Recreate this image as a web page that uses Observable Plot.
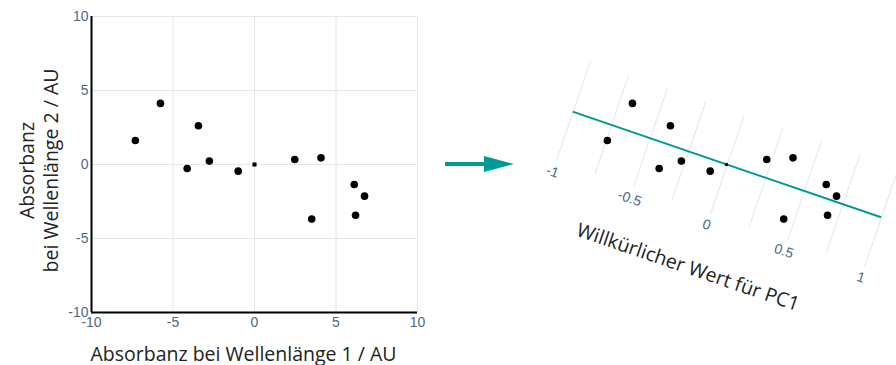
<!DOCTYPE html>
<html><head><meta charset="utf-8">
<script src="https://cdn.jsdelivr.net/npm/d3@7"></script>
<script src="https://cdn.jsdelivr.net/npm/@observablehq/plot@0.6"></script>
<style>
html,body{margin:0;padding:0;background:#fff;}
#wrap{position:relative;width:896px;height:365px;overflow:hidden;}
#wrap > svg{position:absolute;}
</style></head><body><div id="wrap"></div>
<script>
// Data
const pointX = [-7.31, -5.77, -3.44, -4.13, -2.77, -1.0, 2.47, 4.08, 6.12, 6.75, 6.2, 3.51];
const pointY = [1.62, 4.13, 2.62, -0.27, 0.23, -0.45, 0.34, 0.45, -1.35, -2.14, -3.43, -3.68];
const centerX = [0];
const centerY = [0];
const axisTicks = [-10, -5, 0, 5, 10];
const pcGridTicks = [-1, -0.75, -0.5, -0.25, 0, 0.25, 0.5, 0.75, 1];
const pcLabelTicks = [-1, -0.5, 0, 0.5, 1];
const pcDomain = [-1, 1];
const xTitle = "Absorbanz bei Wellenlänge 1 / AU";
const yTitle = "Absorbanz\nbei Wellenlänge 2 / AU";
const pcTitle = "Willkürlicher Wert für PC1";

const points = pointX.map((x, i) => ({x, y: pointY[i]}));
const center = centerX.map((x, i) => ({x, y: centerY[i]}));

const teal = "#009a94";
const gridColor = "#e3e6ed";
const tickColor = "#506784";
const titleFont = "'Open Sans', 'Noto Sans', sans-serif";
const tickFont = "'Liberation Sans', Arial, sans-serif";
const titleSize = 19.5;
const wrap = document.getElementById("wrap");

const frame = {width: 440, height: 365, marginLeft: 91, marginRight: 23, marginTop: 16, marginBottom: 53};

// Left scatter plot
const left = Plot.plot({
  ...frame,
  x: {domain: [-10, 10]},
  y: {domain: [-10, 10]},
  style: {background: "transparent", fontFamily: tickFont, overflow: "visible"},
  marks: [
    Plot.gridX(axisTicks, {stroke: gridColor, strokeOpacity: 1}),
    Plot.gridY(axisTicks, {stroke: gridColor, strokeOpacity: 1}),
    Plot.axisX(axisTicks, {tickSize: 0, tickPadding: 5, fill: tickColor, fontSize: 14, label: null, tickFormat: d => String(d)}),
    Plot.axisY(axisTicks, {tickSize: 0, tickPadding: 3, fill: tickColor, fontSize: 14, label: null, tickFormat: d => String(d)}),
    Plot.ruleX([-10], {stroke: "#000", strokeWidth: 2}),
    Plot.ruleY([-10], {stroke: "#000", strokeWidth: 2}),
    Plot.dot(points, {x: "x", y: "y", r: 3.8, fill: "#000"}),
    Plot.dot(center, {x: "x", y: "y", r: 2.3, symbol: "square", fill: "#000"}),
    Plot.text([xTitle], {text: d => d, frameAnchor: "bottom", lineAnchor: "middle", textAnchor: "middle", dx: -11, dy: 42, fontSize: titleSize, fill: "#222", fontFamily: titleFont}),
    Plot.text([yTitle], {text: d => d, frameAnchor: "left", rotate: -90, textAnchor: "middle", lineAnchor: "middle", dx: -53, dy: 6, lineHeight: 1.22, fontSize: titleSize, fill: "#222", fontFamily: titleFont})
  ]
});
left.style.left = "0px"; left.style.top = "0px";
wrap.appendChild(left);

// Arrow
const arrow = d3.create("svg").attr("width", 80).attr("height", 30)
  .style("left", "440px").style("top", "149px");
arrow.append("line").attr("x1", 5).attr("x2", 46).attr("y1", 15).attr("y2", 15)
  .attr("stroke", teal).attr("stroke-width", 4);
arrow.append("polygon").attr("points", "44,7 74,15 44,23").attr("fill", teal);
wrap.appendChild(arrow.node());

// Rotated PC1 frame
const pcW = 326, pcH = 104, pcML = 20, pcMT = 5;
const pc = Plot.plot({
  width: pcW + 2 * pcML, height: pcH + pcMT + 75,
  marginLeft: pcML, marginRight: pcML, marginTop: pcMT, marginBottom: 75,
  x: {domain: pcDomain},
  y: {domain: [-1, 1], axis: null},
  style: {background: "transparent", fontFamily: tickFont, overflow: "visible"},
  marks: [
    Plot.gridX(pcGridTicks, {stroke: gridColor, strokeOpacity: 1}),
    Plot.axisX(pcLabelTicks, {tickSize: 0, tickPadding: 6, fill: tickColor, fontSize: 14, label: null, tickFormat: d => String(d)}),
    Plot.ruleY([0], {x1: pcDomain[0], x2: pcDomain[1], stroke: teal, strokeWidth: 2}),
    Plot.text([pcTitle], {text: d => d, frameAnchor: "bottom", lineAnchor: "middle", textAnchor: "middle", dy: 58, dx: -4, fontSize: titleSize, fill: "#222", fontFamily: titleFont})
  ]
});
const cx = pcML + pcW / 2, cy = pcMT + pcH / 2;
pc.style.left = (726.7 - cx) + "px";
pc.style.top = (164.3 - cy) + "px";
pc.style.transformOrigin = `${cx}px ${cy}px`;
pc.style.transform = "rotate(18.9deg)";
wrap.appendChild(pc);

// Dots overlay on the right (same scales as the left plot, shifted)
const right = Plot.plot({
  ...frame,
  x: {domain: [-10, 10], axis: null},
  y: {domain: [-10, 10], axis: null},
  style: {background: "transparent", overflow: "visible"},
  marks: [
    Plot.dot(points, {x: "x", y: "y", r: 3.8, fill: "#000"}),
    Plot.dot(center, {x: "x", y: "y", r: 1.7, fill: "#000"})
  ]
});
right.style.left = "472px"; right.style.top = "0px";
right.style.maxWidth = "none";
wrap.appendChild(right);
</script></body></html>
